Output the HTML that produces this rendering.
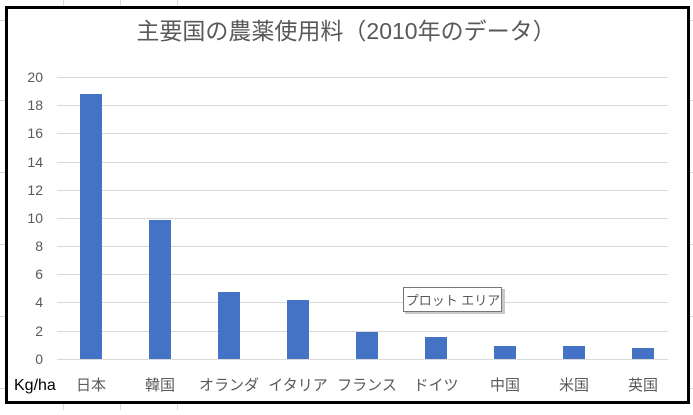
<!DOCTYPE html>
<html><head><meta charset="utf-8"><style>
html,body{margin:0;padding:0;background:#fff;}
body{width:693px;height:410px;overflow:hidden;}
</style></head><body>
<svg width="693" height="410" xmlns="http://www.w3.org/2000/svg" font-family="'Liberation Sans','Noto Sans CJK JP',sans-serif">
<g stroke="#d9d9d9" stroke-width="1">
<line x1="0" y1="20.5" x2="693" y2="20.5"/><line x1="0" y1="100.5" x2="693" y2="100.5"/>
<line x1="0" y1="172.5" x2="693" y2="172.5"/><line x1="0" y1="244.5" x2="693" y2="244.5"/>
<line x1="0" y1="316.5" x2="693" y2="316.5"/><line x1="0" y1="388.5" x2="693" y2="388.5"/>
<line x1="63.5" y1="0" x2="63.5" y2="410"/><line x1="120.5" y1="0" x2="120.5" y2="410"/>
<line x1="177.5" y1="0" x2="177.5" y2="410"/>
</g>
<rect x="6.5" y="7.5" width="682" height="395" fill="#fff" stroke="#000" stroke-width="3"/>
<text x="346" y="39" font-size="23" fill="#595959" text-anchor="middle">主要国の農薬使用料（2010年のデータ）</text>
<g stroke="#d9d9d9" stroke-width="1">
<line x1="57" y1="77.5" x2="668" y2="77.5"/><line x1="57" y1="105.5" x2="668" y2="105.5"/>
<line x1="57" y1="133.5" x2="668" y2="133.5"/><line x1="57" y1="162.5" x2="668" y2="162.5"/>
<line x1="57" y1="190.5" x2="668" y2="190.5"/><line x1="57" y1="218.5" x2="668" y2="218.5"/>
<line x1="57" y1="246.5" x2="668" y2="246.5"/><line x1="57" y1="274.5" x2="668" y2="274.5"/>
<line x1="57" y1="302.5" x2="668" y2="302.5"/><line x1="57" y1="331.5" x2="668" y2="331.5"/>
<line x1="57" y1="359.5" x2="668" y2="359.5"/>
</g>
<g font-size="14" fill="#595959" text-anchor="end">
<text x="43" y="82">20</text><text x="43" y="110">18</text><text x="43" y="138">16</text>
<text x="43" y="167">14</text><text x="43" y="195">12</text><text x="43" y="223">10</text>
<text x="43" y="251">8</text><text x="43" y="279">6</text><text x="43" y="307">4</text>
<text x="43" y="336">2</text><text x="43" y="364">0</text>
</g>
<g fill="#4472c4">
<rect x="80" y="94" width="22" height="265"/>
<rect x="149" y="220" width="22" height="139"/>
<rect x="218" y="292" width="22" height="67"/>
<rect x="287" y="300" width="22" height="59"/>
<rect x="356" y="332" width="22" height="27"/>
<rect x="425" y="337" width="22" height="22"/>
<rect x="494" y="346" width="22" height="13"/>
<rect x="563" y="346" width="22" height="13"/>
<rect x="632" y="348" width="22" height="11"/>
</g>
<text x="14" y="390" font-size="16" fill="#000">Kg/ha</text>
<g font-size="15" fill="#595959" text-anchor="middle">
<text x="91" y="390">日本</text><text x="160" y="390">韓国</text>
<text x="229" y="390">オランダ</text><text x="298" y="390">イタリア</text>
<text x="367" y="390">フランス</text><text x="436" y="390">ドイツ</text>
<text x="505" y="390">中国</text><text x="574" y="390">米国</text><text x="643" y="390">英国</text>
</g>
<rect x="405" y="289" width="100" height="25" fill="#c8c8c8"/>
<rect x="403.5" y="287.5" width="98" height="24" fill="#fff" stroke="#767676"/>
<text x="453" y="305" font-size="13" fill="#595959" text-anchor="middle">プロット エリア</text>
</svg>
</body></html>
